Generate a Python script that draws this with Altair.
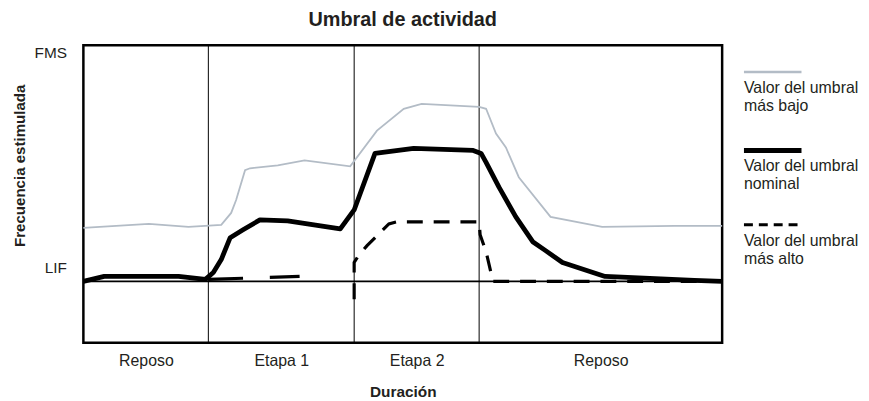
import altair as alt
import pandas as pd

# ---------------- data ----------------
chart_title = "Umbral de actividad"
x_extent = [0, 644]          # Duración (arbitrary units)
y_extent = [0, 300]          # Frecuencia estimulada (arbitrary units)
fms_value = 300
lif_value = 62

section_names = ["Reposo", "Etapa 1", "Etapa 2", "Reposo"]
section_bounds = [0, 126, 273, 399, 644]

# Valor del umbral más bajo (gray)
low_x = [0, 66, 106, 139, 149, 154, 163, 168, 196, 223, 269, 296, 323, 341,
         399, 406, 416, 426, 439, 471, 523, 596, 644]
low_y = [116, 120, 117, 119, 131, 144, 174, 176, 179, 184, 178, 214, 236, 241,
         238, 236, 211, 197, 167, 127, 117, 118, 118]

# Valor del umbral nominal (thick black)
nom_x = [0, 21, 96, 123, 131, 139, 148, 161, 178, 206, 259, 273, 294, 333,
         393, 401, 406, 419, 436, 453, 466, 483, 526, 616, 644]
nom_y = [62, 67, 67, 64, 71, 84, 106, 114, 124, 123, 115, 134, 191, 196,
         194, 191, 182, 157, 127, 102, 93, 81, 67, 63, 62]

# Valor del umbral más alto (dashed) – two drawn pieces
high_piece = ["a", "a",
              "b", "b", "b", "b", "b", "b", "b", "b", "b", "b", "b", "b"]
high_x = [126, 218,
          273, 273, 278, 286, 296, 308, 316, 399, 400, 406, 413, 644]
high_y = [64, 67,
          44, 81, 89, 98, 108, 120, 122, 122, 109, 92, 62, 62]

legend_labels = [["Valor del umbral", "más bajo"],
                 ["Valor del umbral", "nominal"],
                 ["Valor del umbral", "más alto"]]

# ---------------- styling ----------------
FONT = "Liberation Sans"
TXT = "#231f20"
GRAY = "#b3bcc6"
FS = 16

low_df = pd.DataFrame({"x": low_x, "y": low_y})
nom_df = pd.DataFrame({"x": nom_x, "y": nom_y})
high_df = pd.DataFrame({"x": high_x, "y": high_y, "piece": high_piece})
div_df = pd.DataFrame({"x": section_bounds[1:-1]})
lif_df = pd.DataFrame({"y": [lif_value]})

centers = [(a + b) / 2 for a, b in zip(section_bounds[:-1], section_bounds[1:])]
label_expr = ""
for c, n in zip(centers, section_names):
    label_expr += f"datum.value == {c} ? '{n}' : "
label_expr += "''"

x_scale = alt.Scale(domain=x_extent, nice=False, zero=False)
y_scale = alt.Scale(domain=y_extent, nice=False, zero=False)

x_axis = alt.Axis(values=centers, labelExpr=label_expr, title="Duración",
                  grid=False, domain=False, ticks=False, tickSize=0,
                  labelPadding=23, labelBaseline="alphabetic", labelFlush=False,
                  labelFont=FONT, labelFontSize=FS, labelColor=TXT,
                  titleFont=FONT, titleFontSize=15.5, titleFontWeight="bold",
                  titleColor=TXT, titleY=54, titleBaseline="alphabetic")
y_axis = alt.Axis(values=[lif_value, fms_value],
                  labelExpr=f"datum.value == {fms_value} ? 'FMS' : 'LIF'",
                  title="Frecuencia estimulada",
                  grid=False, domain=False, ticks=False, tickSize=0,
                  labelPadding=17, labelBaseline="alphabetic", labelFlush=False,
                  labelOffset={"condition": {"test": f"datum.value == {fms_value}", "value": 12},
                               "value": -9},
                  labelFont=FONT, labelFontSize=15.5, labelColor=TXT,
                  titleFont=FONT, titleFontSize=15.2, titleFontWeight="bold",
                  titleColor=TXT, titleAngle=270, titleX=-59, titleY=121,
                  titleAlign="center", titleBaseline="alphabetic")

X = lambda: alt.X("x:Q", scale=x_scale, axis=x_axis)
Y = lambda: alt.Y("y:Q", scale=y_scale, axis=y_axis)

dividers = alt.Chart(div_df).mark_rule(color="black", strokeWidth=1).encode(
    x=alt.X("x:Q", scale=x_scale, axis=x_axis))
lif_rule = alt.Chart(lif_df).mark_rule(color="black", strokeWidth=1.8).encode(
    y=alt.Y("y:Q", scale=y_scale, axis=y_axis))

low_line = alt.Chart(low_df).mark_line(color=GRAY, strokeWidth=1.8).encode(
    x=X(), y=Y(), order="x:Q")

dash_a = alt.Chart(high_df[high_df.piece == "a"]).mark_line(
    color="black", strokeWidth=3.2, strokeDash=[35, 27]).encode(x=X(), y=Y())
dash_b = alt.Chart(high_df[high_df.piece == "b"]).mark_line(
    color="black", strokeWidth=3.2, strokeDash=[16, 11]).encode(x=X(), y=Y())

nom_line = alt.Chart(nom_df).mark_line(color="black", strokeWidth=4.8,
                                       strokeJoin="round").encode(
    x=X(), y=Y(), order="x:Q")

dummy = alt.Data(values=[{"k": 0}])

# ---------------- title (as a text mark above the plot) ----------------
title_mark = alt.Chart(dummy).mark_text(
    text=chart_title, align="center", baseline="alphabetic", font=FONT,
    fontSize=20, fontWeight="bold", color=TXT).encode(
    x=alt.value(322), y=alt.value(-19))

# ---------------- manual legend ----------------
legend_styles = [dict(color=GRAY, strokeWidth=2.5),
                 dict(color="black", strokeWidth=5),
                 dict(color="black", strokeWidth=3, strokeDash=[9, 6])]
leg_x0, leg_x1 = 666, 724
leg_rows = [27, 106, 181]
legend_layers = []
for row_y, style, lines in zip(leg_rows, legend_styles, legend_labels):
    legend_layers.append(
        alt.Chart(dummy).mark_rule(**style).encode(
            x=alt.value(leg_x0), x2=alt.value(leg_x1), y=alt.value(row_y)))
    for i, line in enumerate(lines):
        legend_layers.append(
            alt.Chart(dummy).mark_text(text=line, align="left", baseline="alphabetic",
                                       font=FONT, fontSize=FS, color=TXT).encode(
                x=alt.value(leg_x0), y=alt.value(row_y + 21 + 18 * i)))

chart = alt.layer(dividers, lif_rule, low_line, dash_a, dash_b, nom_line,
                  title_mark, *legend_layers).properties(
    width=644, height=300,
    autosize=alt.AutoSizeParams(type="none"),
    padding={"left": 76, "top": 36, "right": 140, "bottom": 56},
).configure_view(stroke="black", strokeWidth=2.5)

chart.save("out.html", embed_options={"renderer": "svg", "actions": False})
